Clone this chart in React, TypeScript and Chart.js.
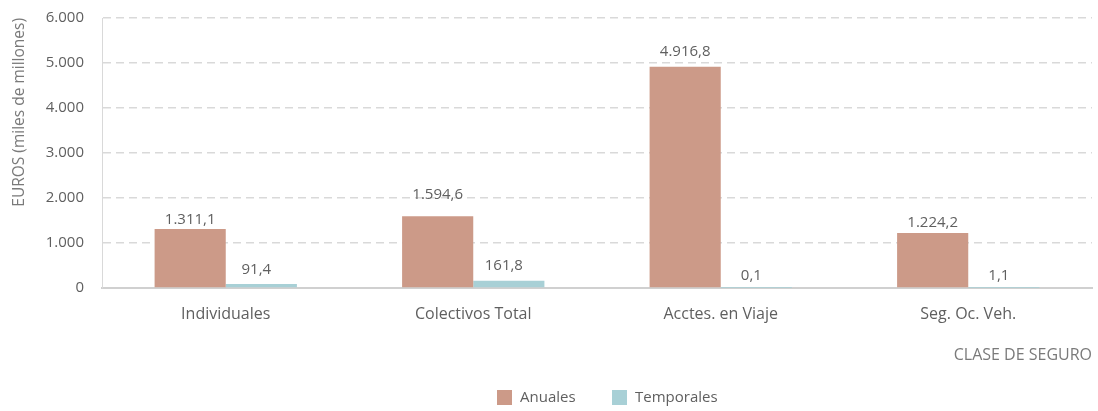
import React, { useEffect, useRef } from "react";
import { Chart, registerables } from "chart.js";

Chart.register(...registerables);

const categories = ["Individuales", "Colectivos Total", "Acctes. en Viaje", "Seg. Oc. Veh."];
const anuales = [1311.1, 1594.6, 4916.8, 1224.2];
const temporales = [91.4, 161.8, 0.1, 1.1];
const seriesNames = ["Anuales", "Temporales"];
const yTicks = [0, 1000, 2000, 3000, 4000, 5000, 6000];

const FONT = "'Open Sans', 'Noto Sans', sans-serif";
const TEXT = "#5f5f5f";
const COLORS = ["#CC9A88", "#A8D0D6"];

function fmt(v: number, dec: number): string {
  const neg = v < 0;
  const s = Math.abs(v).toFixed(dec);
  const [i, d] = s.split(".");
  const ig = i.replace(/\B(?=(\d{3})+(?!\d))/g, ".");
  return (neg ? "-" : "") + ig + (d ? "," + d : "");
}

// lift (px) of value labels above bar tops, per dataset and category
const labelLift = [
  [2, 14, 8, 3],
  [7, 7, 5, 5],
];
// small horizontal nudge of value labels (px), per dataset
const labelShift = [0, -5];

const valueLabels = {
  id: "valueLabels",
  afterDatasetsDraw(chart: any) {
    const ctx = chart.ctx;
    ctx.save();
    ctx.font = `15px ${FONT}`;
    ctx.fillStyle = TEXT;
    ctx.textAlign = "center";
    ctx.textBaseline = "bottom";
    chart.data.datasets.forEach((ds: any, di: number) => {
      const meta = chart.getDatasetMeta(di);
      meta.data.forEach((bar: any, i: number) => {
        ctx.fillText(fmt(ds.data[i], 1), bar.x + labelShift[di], bar.y - labelLift[di][i]);
      });
    });
    ctx.restore();
  },
};

const customLegend = {
  id: "customLegend",
  afterDraw(chart: any) {
    const ctx = chart.ctx;
    ctx.save();
    ctx.font = `15px ${FONT}`;
    ctx.textBaseline = "middle";
    ctx.textAlign = "left";
    const yc = 397.5;
    const starts = [497, 612];
    chart.data.datasets.forEach((ds: any, i: number) => {
      const x = starts[i];
      ctx.fillStyle = ds.backgroundColor;
      ctx.fillRect(x, yc - 7.5, 15, 15);
      ctx.fillStyle = TEXT;
      ctx.fillText(ds.label, x + 23, yc);
    });
    ctx.restore();
  },
};

export default function App() {
  const ref = useRef<HTMLCanvasElement>(null);
  useEffect(() => {
    document.body.style.margin = "0";
    const chart = new Chart(ref.current!, {
      type: "bar",
      data: {
        labels: categories,
        datasets: [
          { label: seriesNames[0], data: anuales, backgroundColor: COLORS[0] },
          { label: seriesNames[1], data: temporales, backgroundColor: COLORS[1] },
        ],
      },
      plugins: [valueLabels, customLegend],
      options: {
        animation: false,
        responsive: false,
        maintainAspectRatio: false,
        layout: { padding: { left: 6, right: 6, top: 18, bottom: 0 } },
        datasets: { bar: { categoryPercentage: 0.575, barPercentage: 1 } },
        plugins: {
          legend: { display: false },
          tooltip: { enabled: false },
        },
        scales: {
          x: {
            afterFit(scale: any) {
              scale.height = 123;
              scale.paddingTop = 0;
              scale.paddingBottom = 0;
            },
            grid: { display: false },
            border: { color: "#d0d0d0", width: 2 },
            ticks: { font: { family: FONT, size: 16 }, color: TEXT, padding: 9 },
            title: {
              display: true,
              text: "CLASE DE SEGURO",
              align: "end",
              font: { family: FONT, size: 16 },
              color: "#7a7a7a",
              padding: { top: 0, bottom: 46 },
            },
          },
          y: {
            min: 0,
            max: 6000,
            afterBuildTicks(scale: any) {
              scale.ticks = yTicks.map((v) => ({ value: v }));
            },
            afterFit(scale: any) {
              scale.width = 96;
              scale.paddingTop = 0;
              scale.paddingBottom = 0;
            },
            grid: { color: "#d9d9d9", lineWidth: 1.5, drawTicks: false },
            border: { color: "#d9d9d9", width: 1, dash: [8, 5] },
            ticks: {
              font: { family: FONT, size: 15 },
              color: TEXT,
              padding: 18,
              callback: (v: any) => fmt(Number(v), 0),
            },
            title: {
              display: true,
              text: "EUROS (miles de millones)",
              align: "end",
              font: { family: FONT, size: 15.5 },
              color: "#7a7a7a",
              padding: { bottom: 0 },
            },
          },
        },
      } as any,
    });
    return () => chart.destroy();
  }, []);
  return (
    <div style={{ width: 1098, height: 411 }}>
      <canvas ref={ref} width={1098} height={411} />
    </div>
  );
}
